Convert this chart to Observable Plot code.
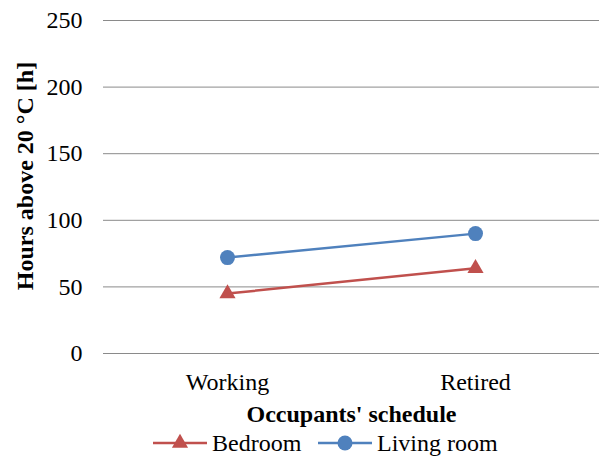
<!DOCTYPE html>
<html>
<head>
<meta charset="utf-8">
<script src="https://cdn.jsdelivr.net/npm/d3@7"></script>
<script src="https://cdn.jsdelivr.net/npm/@observablehq/plot@0.6"></script>
<style>
  html, body { margin: 0; padding: 0; background: #fff; }
  #wrap { width: 599px; height: 456px; position: relative; font-family: "Liberation Serif", "Times New Roman", serif; }
  #legend { position: relative; width: 599px; height: 26px; font-size: 24px; color: #000; }
  #legend .sw { position: absolute; top: 0; }
  #legend .lb { position: absolute; top: 0; line-height: 26px; white-space: nowrap; }
</style>
</head>
<body>
<div id="wrap"></div>
<script>
const categories = ["Working", "Retired"];
const bedroom = [45, 64];
const livingRoom = [72, 90];
const yTicks = [0, 50, 100, 150, 200, 250];
const seriesNames = ["Bedroom", "Living room"];
const seriesColors = ["#C0504D", "#4F81BD"];
const xTitle = "Occupants' schedule";
const yTitle = "Hours above 20 °C [h]";

const data = [];
categories.forEach((c, i) => {
  data.push({cat: c, series: seriesNames[0], value: bedroom[i]});
  data.push({cat: c, series: seriesNames[1], value: livingRoom[i]});
});
const bed = data.filter(d => d.series === seriesNames[0]);
const liv = data.filter(d => d.series === seriesNames[1]);

const font = "Liberation Serif";

const chart = Plot.plot({
  width: 599,
  height: 430,
  marginLeft: 103,
  marginRight: 0,
  marginTop: 20,
  marginBottom: 77,
  style: {fontFamily: font, fontSize: "24px", color: "#000", background: "#fff"},
  x: {type: "point", domain: categories, padding: 0.5, label: null},
  y: {domain: [0, 250], ticks: yTicks, label: null},
  marks: [
    Plot.gridY(yTicks, {stroke: "#8a8a8a", strokeOpacity: 1, strokeWidth: 1}),
    Plot.axisY(yTicks, {tickSize: 0, tickPadding: 21, fontSize: 24, label: null, fill: "#000"}),
    Plot.axisX({tickSize: 0, tickPadding: 19, fontSize: 24, label: null, fill: "#000"}),
    Plot.line(bed, {x: "cat", y: "value", stroke: seriesColors[0], strokeWidth: 2.5}),
    Plot.line(liv, {x: "cat", y: "value", stroke: seriesColors[1], strokeWidth: 2.5}),
    Plot.dot(bed, {x: "cat", y: "value", symbol: "triangle", r: 6, fill: seriesColors[0], stroke: "none"}),
    Plot.dot(liv, {x: "cat", y: "value", symbol: "circle", r: 7.5, fill: seriesColors[1], stroke: "none"}),
    Plot.text([xTitle], {frameAnchor: "bottom", textAnchor: "middle", lineAnchor: "middle", dy: 61, text: d => d, fontSize: 24, fontWeight: "bold", fill: "#000"}),
    Plot.text([yTitle], {frameAnchor: "left", textAnchor: "middle", lineAnchor: "middle", dx: -78, dy: -11, rotate: -90, text: d => d, fontSize: 24, fontWeight: "bold", fill: "#000"})
  ]
});

const wrap = document.getElementById("wrap");
wrap.appendChild(chart);

// legend below the chart
const legend = document.createElement("div");
legend.id = "legend";
const items = [
  {name: seriesNames[0], color: seriesColors[0], sym: "triangle", swLeft: 153, lbLeft: 212},
  {name: seriesNames[1], color: seriesColors[1], sym: "circle", swLeft: 318, lbLeft: 377}
];
const ns = "http://www.w3.org/2000/svg";
items.forEach(it => {
  const sw = document.createElementNS(ns, "svg");
  sw.setAttribute("class", "sw");
  sw.setAttribute("width", 54);
  sw.setAttribute("height", 26);
  sw.style.left = it.swLeft + "px";
  const ln = document.createElementNS(ns, "line");
  ln.setAttribute("x1", 0); ln.setAttribute("x2", 54);
  ln.setAttribute("y1", 13); ln.setAttribute("y2", 13);
  ln.setAttribute("stroke", it.color); ln.setAttribute("stroke-width", 2.5);
  sw.appendChild(ln);
  if (it.sym === "triangle") {
    const p = document.createElementNS(ns, "path");
    p.setAttribute("d", d3.symbol(d3.symbolTriangle, 6 * 6 * Math.PI)());
    p.setAttribute("transform", "translate(27,13)");
    p.setAttribute("fill", it.color);
    sw.appendChild(p);
  } else {
    const c = document.createElementNS(ns, "circle");
    c.setAttribute("cx", 27); c.setAttribute("cy", 13); c.setAttribute("r", 7.5);
    c.setAttribute("fill", it.color);
    sw.appendChild(c);
  }
  legend.appendChild(sw);
  const lb = document.createElement("span");
  lb.className = "lb";
  lb.style.left = it.lbLeft + "px";
  lb.textContent = it.name;
  legend.appendChild(lb);
});
wrap.appendChild(legend);
</script>
</body>
</html>
